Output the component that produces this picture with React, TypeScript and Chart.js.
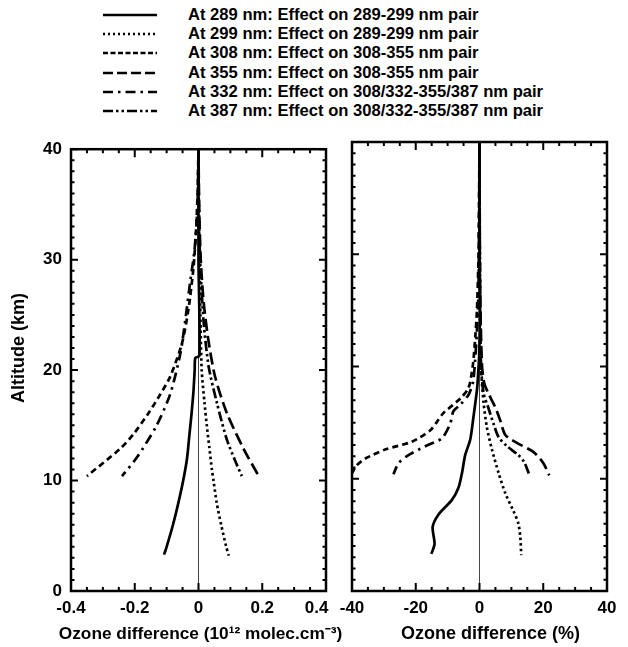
import { useEffect, useRef } from 'react';
import { Chart, Ticks, registerables } from 'chart.js';

Chart.register(...registerables);

const FONT = "'Liberation Sans', Arial, Helvetica, sans-serif";

// ---------- legend labels ----------
const seriesLabels = [
  'At 289 nm: Effect on 289-299 nm pair',
  'At 299 nm: Effect on 289-299 nm pair',
  'At 308 nm: Effect on 308-355 nm pair',
  'At 355 nm: Effect on 308-355 nm pair',
  'At 332 nm: Effect on 308/332-355/387 nm pair',
  'At 387 nm: Effect on 308/332-355/387 nm pair',
];

// ---------- axes ----------
const altTicks = [0, 10, 20, 30, 40];
const absTicks = [-0.4, -0.2, 0, 0.2, 0.4];
const pctTicks = [-40, -20, 0, 20, 40];

// ---------- left panel: ozone difference (10^12 molec.cm^-3) ----------
const absAlt289 = [40, 30, 21.3, 21.1, 20, 18, 16, 14, 12, 10, 8, 6, 4, 3.3];
const absVal289 = [0, 0, 0.003, -0.01, -0.012, -0.016, -0.022, -0.029, -0.036, -0.048, -0.063, -0.08, -0.1, -0.108];

const absAlt299 = [40, 35, 30, 25, 20, 17, 15, 13, 11, 10, 8, 6, 4, 3.2];
const absVal299 = [0, 0.001, 0.003, 0.006, 0.01, 0.019, 0.026, 0.034, 0.042, 0.047, 0.057, 0.071, 0.087, 0.095];

const absAlt308 = [40, 35, 32, 29.2, 25.6, 22.4, 19.4, 17.8, 16.1, 14.2, 12.9, 10.4];
const absVal308 = [0, -0.004, -0.009, -0.016, -0.031, -0.052, -0.089, -0.12, -0.157, -0.204, -0.245, -0.35];

const absAlt355 = [40, 35, 30, 26.2, 22.7, 19.4, 16.1, 12.9, 10.4];
const absVal355 = [0, 0.002, 0.007, 0.016, 0.031, 0.052, 0.089, 0.141, 0.189];

const absAlt332 = [40, 35, 31, 28, 24.4, 21.5, 17.8, 14.9, 12.1, 10.4];
const absVal332 = [0, -0.003, -0.012, -0.026, -0.042, -0.057, -0.089, -0.133, -0.193, -0.24];

const absAlt387 = [40, 35, 30, 24.4, 20.3, 17, 13.7, 11.8, 10.4];
const absVal387 = [0, 0.001, 0.005, 0.016, 0.032, 0.058, 0.089, 0.115, 0.136];

// ---------- right panel: ozone difference (%) ----------
const pctAlt289 = [40, 30, 25, 21, 19, 17.9, 15.5, 13.5, 12.1, 10.5, 9.2, 8.1, 6.8, 5.7, 4.2, 3.3];
const pctVal289 = [0, 0, 0.1, -0.1, -0.5, -0.8, -1.9, -2.9, -4.5, -5.5, -6.6, -8.7, -12.9, -14.7, -14.1, -15.1];

const pctAlt299 = [40, 30, 25, 20, 18.8, 16.7, 14.6, 12.6, 10.5, 8.7, 7.1, 6.0, 4.8, 3.2];
const pctVal299 = [0, 0.1, 0.2, 0.4, 0.7, 1.3, 2.3, 3.9, 6.0, 8.1, 10.7, 12.2, 12.8, 13.1];

const pctAlt308 = [40, 30, 25, 22.7, 20.3, 18.5, 17.9, 17.3, 16.9, 15.8, 15.0, 14.3, 13.3, 12.6, 11.8, 11.2, 10.5];
const pctVal308 = [0, -0.3, -0.8, -1.3, -2.0, -3.0, -3.8, -5.5, -7.0, -11.5, -13.5, -15.5, -21.2, -29.6, -35.8, -38.5, -40];

const pctAlt355 = [40, 30, 25, 20, 18.5, 17.6, 16.4, 15.2, 13.9, 13.2, 12.4, 11.4, 10.3];
const pctVal355 = [0, 0.1, 0.3, 0.8, 1.5, 2.8, 4.9, 6.5, 8.1, 11.7, 16.9, 20.0, 21.9];

const pctAlt332 = [40, 30, 25, 18.8, 17.5, 16.6, 16.0, 14.9, 13.6, 12.9, 12.1, 11.4, 10.4];
const pctVal332 = [0, -0.2, -0.5, -1.9, -3.4, -6.0, -8.2, -9.2, -11.8, -17.0, -22.3, -25.4, -27.0];

const pctAlt387 = [40, 30, 25, 20, 17.6, 16.3, 14.9, 13.7, 12.9, 12.1, 11.5, 10.3];
const pctVal387 = [0, 0.1, 0.2, 0.5, 1.3, 2.8, 4.4, 6.0, 8.6, 12.2, 14.0, 15.7];

// ---------- styles ----------
const lineDashes: number[][] = [
  [],
  [2.5, 3],
  [6, 4],
  [12, 5],
  [10, 5, 2.5, 5],
  [10, 3, 2.5, 3, 2.5, 3],
];
const legendDashes = ['', '2,3', '5,2.5', '10,4', '10,5,2.5,5', '10,3,2.5,3,2.5,3'];

type Series = { alt: number[]; val: number[] };

const absSeries: Series[] = [
  { alt: absAlt289, val: absVal289 },
  { alt: absAlt299, val: absVal299 },
  { alt: absAlt308, val: absVal308 },
  { alt: absAlt355, val: absVal355 },
  { alt: absAlt332, val: absVal332 },
  { alt: absAlt387, val: absVal387 },
];
const pctSeries: Series[] = [
  { alt: pctAlt289, val: pctVal289 },
  { alt: pctAlt299, val: pctVal299 },
  { alt: pctAlt308, val: pctVal308 },
  { alt: pctAlt355, val: pctVal355 },
  { alt: pctAlt332, val: pctVal332 },
  { alt: pctAlt387, val: pctVal387 },
];

const CANVAS_TOP = 130;
const CANVAS_H = 517;

const framePlugin = {
  id: 'frameTicks',
  afterDatasetsDraw(chart: any) {
    const { ctx, chartArea: a, scales } = chart;
    const xs = scales.x;
    const ys = scales.y;
    ctx.save();
    ctx.strokeStyle = '#000';
    ctx.lineWidth = 2;
    ctx.lineCap = 'butt';
    ctx.beginPath();
    const drawSet = (scale: any, div: number, horiz: boolean, majL: number, minL: number) => {
      const vals: number[] = scale.ticks.map((t: any) => t.value);
      for (let i = 0; i < vals.length; i++) {
        const p = scale.getPixelForValue(vals[i]);
        if (horiz) {
          ctx.moveTo(p, a.bottom); ctx.lineTo(p, a.bottom - majL);
          ctx.moveTo(p, a.top); ctx.lineTo(p, a.top + majL);
        } else {
          ctx.moveTo(a.left, p); ctx.lineTo(a.left + majL, p);
          ctx.moveTo(a.right, p); ctx.lineTo(a.right - majL, p);
        }
        if (i < vals.length - 1) {
          for (let k = 1; k < div; k++) {
            const v = vals[i] + ((vals[i + 1] - vals[i]) * k) / div;
            const q = scale.getPixelForValue(v);
            if (horiz) {
              ctx.moveTo(q, a.bottom); ctx.lineTo(q, a.bottom - minL);
              ctx.moveTo(q, a.top); ctx.lineTo(q, a.top + minL);
            } else {
              ctx.moveTo(a.left, q); ctx.lineTo(a.left + minL, q);
              ctx.moveTo(a.right, q); ctx.lineTo(a.right - minL, q);
            }
          }
        }
      }
    };
    drawSet(xs, 4, true, 8, 4);
    drawSet(ys, 10, false, 7, 3.5);
    ctx.stroke();
    ctx.lineWidth = 2.5;
    ctx.strokeRect(a.left, a.top, a.right - a.left, a.bottom - a.top);
    ctx.restore();
  },
};

// axis titles drawn in canvas, placed relative to the chart area
const titlesPlugin = {
  id: 'axisTitles',
  afterDraw(chart: any, _args: any, opts: any) {
    const { ctx, chartArea: a } = chart;
    ctx.save();
    ctx.fillStyle = '#000';
    ctx.textAlign = 'center';
    ctx.textBaseline = 'middle';
    ctx.font = `bold ${opts.xTitleSize}px ${FONT}`;
    ctx.fillText(opts.xTitle, (a.left + a.right) / 2 + opts.xShift, a.bottom + 43);
    if (opts.yTitle) {
      ctx.font = `bold 18px ${FONT}`;
      ctx.translate(19, (a.top + a.bottom) / 2 - 22);
      ctx.rotate(-Math.PI / 2);
      ctx.fillText(opts.yTitle, 0, 0);
    }
    ctx.restore();
  },
};

type PanelProps = {
  series: Series[];
  ticks: number[];
  xTitle: string;
  xTitleSize: number;
  xShift: number;
  padLastLabel: boolean;
  showY: boolean;
  left: number;
  width: number;
  padRight: number;
  yWidth: number;
};

function Panel({
  series, ticks, xTitle, xTitleSize, xShift, padLastLabel, showY, left, width, padRight, yWidth,
}: PanelProps) {
  const ref = useRef<HTMLCanvasElement>(null);
  useEffect(() => {
    if (!ref.current) return;
    const xMin = ticks[0];
    const xMax = ticks[ticks.length - 1];
    const step = ticks[1] - ticks[0];
    const chart = new Chart(ref.current, {
      type: 'line',
      data: {
        datasets: series.map((s, i) => ({
          label: seriesLabels[i],
          data: s.alt.map((a, j) => ({ x: s.val[j], y: a })),
          borderColor: '#000',
          backgroundColor: '#000',
          borderWidth: 2.7,
          borderDash: lineDashes[i],
          borderCapStyle: 'butt' as const,
          borderJoinStyle: 'round' as const,
          pointRadius: 0,
          tension: 0.25,
          fill: false,
        })),
      },
      options: {
        responsive: false,
        maintainAspectRatio: false,
        animation: false,
        layout: { padding: { top: 12, right: padRight, bottom: 0, left: 0 } },
        plugins: {
          legend: { display: false },
          tooltip: { enabled: false },
          axisTitles: { xTitle, xTitleSize, xShift, yTitle: showY ? 'Altitude (km)' : '' },
        },
        scales: {
          x: {
            type: 'linear',
            min: xMin,
            max: xMax,
            ticks: {
              stepSize: step,
              padding: 7,
              color: '#000',
              font: { family: FONT, size: 17, weight: 'bold' },
              maxRotation: 0,
              callback: function (this: any, value: number, index: number, all: any[]) {
                const s = Ticks.formatters.numeric.call(this, value, index, all);
                return padLastLabel && index === all.length - 1 ? s + '    ' : s;
              },
            },
            grid: {
              drawTicks: false,
              lineWidth: 1,
              color: (c: any) => (c.tick && Math.abs(c.tick.value) < 1e-9 ? '#444' : 'rgba(0,0,0,0)'),
            },
            border: { display: false },
            afterFit: (s: any) => {
              s.height = 56;
            },
          },
          y: {
            type: 'linear',
            min: altTicks[0],
            max: altTicks[altTicks.length - 1],
            ticks: {
              display: showY,
              stepSize: altTicks[1] - altTicks[0],
              padding: 9,
              color: '#000',
              font: { family: FONT, size: 17, weight: 'bold' },
            },
            grid: { display: false, drawTicks: false },
            border: { display: false },
            afterFit: (s: any) => {
              s.width = yWidth;
            },
          },
        },
      },
      plugins: [framePlugin, titlesPlugin],
    } as any);
    return () => chart.destroy();
  }, []);
  return (
    <canvas
      ref={ref}
      width={width}
      height={CANVAS_H}
      style={{ position: 'absolute', left, top: CANVAS_TOP, width, height: CANVAS_H }}
    />
  );
}

function Legend() {
  return (
    <>
      {seriesLabels.map((lab, i) => {
        const cy = 15 + i * 19.2;
        return (
          <div key={i}>
            <svg
              width={60}
              height={10}
              style={{ position: 'absolute', left: 100, top: cy - 5 }}
            >
              <line
                x1={3}
                y1={5}
                x2={57}
                y2={5}
                stroke="#000"
                strokeWidth={2.5}
                strokeDasharray={legendDashes[i] || undefined}
              />
            </svg>
            <div
              style={{
                position: 'absolute',
                left: 188,
                top: cy - 10,
                height: 20,
                lineHeight: '20px',
                font: `bold 16.6px ${FONT}`,
                color: '#000',
                whiteSpace: 'nowrap',
              }}
            >
              {lab}
            </div>
          </div>
        );
      })}
    </>
  );
}

export default function App() {
  return (
    <div
      style={{
        position: 'absolute',
        left: 0,
        top: 0,
        width: 628,
        height: 647,
        background: '#fff',
        overflow: 'hidden',
      }}
    >
      <Legend />
      <Panel
        series={absSeries}
        ticks={absTicks}
        xTitle={'Ozone difference (10\u00B9\u00B2 molec.cm\u207B\u00B3)'}
        xTitleSize={17.3}
        xShift={2}
        padLastLabel={true}
        showY={true}
        left={0}
        width={366}
        padRight={40}
        yWidth={71}
      />
      <Panel
        series={pctSeries}
        ticks={pctTicks}
        xTitle={'Ozone difference (%)'}
        xTitleSize={18}
        xShift={11}
        padLastLabel={false}
        showY={false}
        left={326}
        width={302}
        padRight={21}
        yWidth={26}
      />
    </div>
  );
}
